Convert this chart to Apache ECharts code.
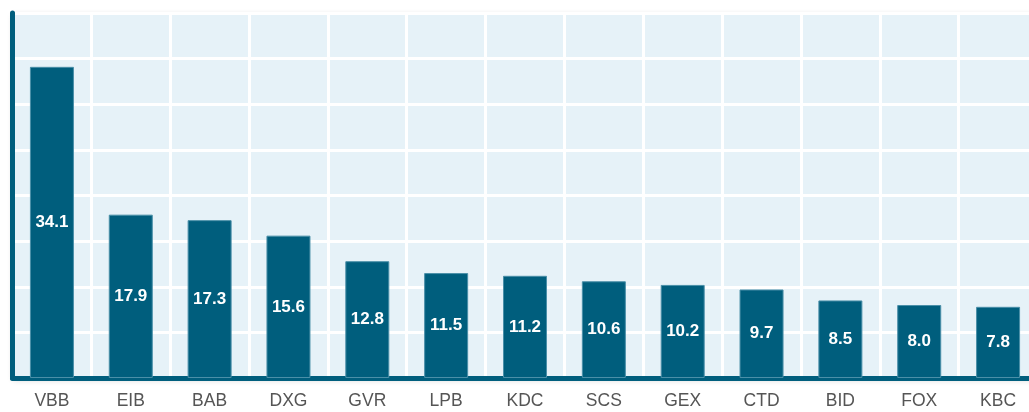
<!DOCTYPE html>
<html><head><meta charset="utf-8">
<script src="https://cdn.jsdelivr.net/npm/echarts@6/dist/echarts.min.js"></script>
<style>html,body{margin:0;padding:0;background:#fff}#c{width:1029px;height:412px}</style>
</head><body><div id="c"></div>
<script>
const categories = ["VBB","EIB","BAB","DXG","GVR","LPB","KDC","SCS","GEX","CTD","BID","FOX","KBC"];
const values = [34.1,17.9,17.3,15.6,12.8,11.5,11.2,10.6,10.2,9.7,8.5,8.0,7.8];
const chart = echarts.init(document.getElementById('c'));
chart.setOption({
  animation:false,
  grid:{left:12.5,width:1025,top:13,bottom:34,show:true,outerBoundsMode:'none',containLabel:false,
        backgroundColor:'#e6f2f8',borderWidth:0,
        shadowBlur:6,shadowColor:'rgba(0,0,0,0.18)',shadowOffsetY:2},
  xAxis:{type:'category',data:categories,offset:2,
    axisLine:{show:true,lineStyle:{color:'#005e7d',width:5}},
    axisTick:{show:false},
    axisLabel:{color:'#555',fontSize:17.5,fontFamily:'Liberation Sans, Arial, sans-serif',margin:12},
    splitLine:{show:true,lineStyle:{color:'#ffffff',width:3}}},
  yAxis:{type:'value',min:0,max:40,interval:5,
    axisLine:{show:true,lineStyle:{color:'#005e7d',width:5}},
    axisTick:{show:false},axisLabel:{show:false},
    splitLine:{show:true,lineStyle:{color:'#ffffff',width:3}}},
  series:[{type:'bar',data:values,barWidth:44,
    itemStyle:{color:'#005e7d',borderColor:'#4a8fa8',borderWidth:1},
    label:{show:true,position:'inside',color:'#fff',fontWeight:'bold',fontSize:17,
      fontFamily:'Liberation Sans, Arial, sans-serif',formatter:p=>p.value.toFixed(1)}}]
});
</script></body></html>
